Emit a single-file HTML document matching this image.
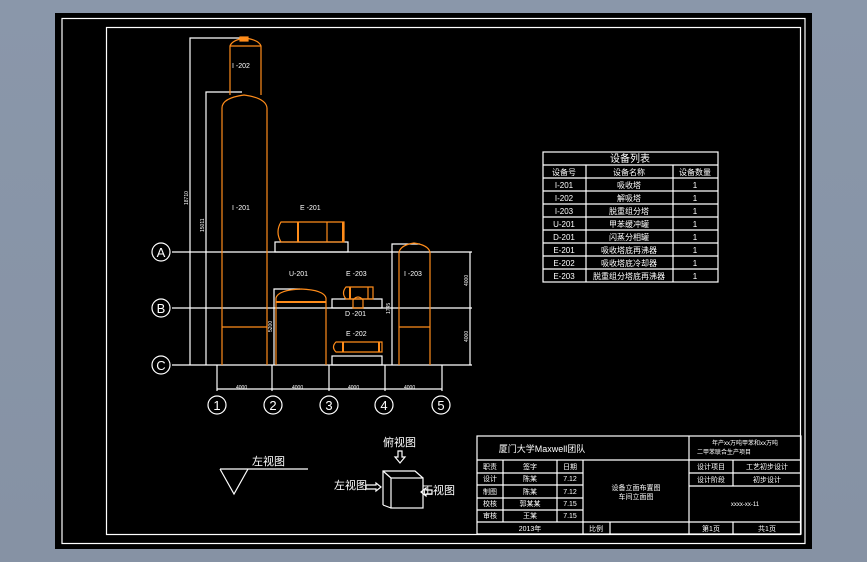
<!DOCTYPE html>
<html><head><meta charset="utf-8"><style>
html,body{margin:0;padding:0;width:867px;height:562px;overflow:hidden;background:linear-gradient(#8a97aa,#8692a4);}
svg{display:block}
text{font-family:"Liberation Sans","Noto Sans CJK SC",sans-serif;fill:#fff}
</style></head><body>
<svg width="867" height="562" viewBox="0 0 867 562">
<rect x="55" y="13" width="757" height="536" fill="#000"/>
<g fill="none" stroke="#fff" stroke-width="1.2">
<rect x="62" y="18.5" width="743" height="525"/>
<rect x="106.5" y="27.5" width="694" height="507"/>
<line x1="172" y1="252" x2="472" y2="252"/>
<line x1="172" y1="308" x2="472" y2="308"/>
<line x1="172" y1="365" x2="472" y2="365"/>
<circle cx="161" cy="252" r="9"/><circle cx="161" cy="308" r="9"/><circle cx="161" cy="365" r="9"/>
<line x1="217" y1="365" x2="217" y2="391"/><line x1="272" y1="365" x2="272" y2="391"/>
<line x1="329" y1="365" x2="329" y2="391"/><line x1="385" y1="365" x2="385" y2="391"/>
<line x1="442" y1="365" x2="442" y2="391"/>
<line x1="217" y1="389" x2="442" y2="389"/>
<circle cx="217" cy="405" r="9"/><circle cx="273" cy="405" r="9"/><circle cx="329" cy="405" r="9"/><circle cx="384" cy="405" r="9"/><circle cx="441" cy="405" r="9"/>
<polyline points="243,38 190,38 190,365"/>
<polyline points="242,92 206,92 206,365"/>
<polyline points="300,289 274,289 274,365"/>
<polyline points="420,244 392,244 392,365"/>
<line x1="470" y1="252" x2="470" y2="365"/>
<rect x="275" y="242" width="73" height="10"/>
<rect x="332" y="299" width="50" height="9"/>
<rect x="332" y="356" width="50" height="9"/>
<rect x="543" y="152" width="175" height="130"/>
<line x1="543" y1="165" x2="718" y2="165"/>
<line x1="543" y1="178" x2="718" y2="178"/><line x1="543" y1="191" x2="718" y2="191"/>
<line x1="543" y1="204" x2="718" y2="204"/><line x1="543" y1="217" x2="718" y2="217"/>
<line x1="543" y1="230" x2="718" y2="230"/><line x1="543" y1="243" x2="718" y2="243"/>
<line x1="543" y1="256" x2="718" y2="256"/><line x1="543" y1="269" x2="718" y2="269"/>
<line x1="586" y1="165" x2="586" y2="282"/><line x1="673" y1="165" x2="673" y2="282"/>
<rect x="477" y="436" width="324" height="98"/>
<line x1="477" y1="460" x2="801" y2="460"/>
<line x1="477" y1="473" x2="583" y2="473"/><line x1="477" y1="485" x2="583" y2="485"/>
<line x1="477" y1="498" x2="583" y2="498"/><line x1="477" y1="510" x2="583" y2="510"/>
<line x1="477" y1="522" x2="801" y2="522"/>
<line x1="689" y1="473" x2="801" y2="473"/><line x1="689" y1="486" x2="801" y2="486"/>
<line x1="503" y1="460" x2="503" y2="522"/><line x1="557" y1="460" x2="557" y2="522"/>
<line x1="583" y1="460" x2="583" y2="534"/><line x1="610" y1="522" x2="610" y2="534"/>
<line x1="689" y1="436" x2="689" y2="534"/><line x1="733" y1="460" x2="733" y2="486"/>
<line x1="733" y1="522" x2="733" y2="534"/>
<line x1="220" y1="469" x2="308" y2="469"/>
<polyline points="220,469 234,494 248,469"/>
<rect x="391" y="478" width="32" height="30"/>
<polyline points="383,505 383,471 415,471 423,478"/><line x1="383" y1="471" x2="391" y2="478"/><line x1="383" y1="505" x2="391" y2="508"/>
<path d="M398,451 h4 v6 h3 l-5,6 l-5,-6 h3z"/>
<path d="M366,485 h10 v-2 l5,4 l-5,4 v-2 h-10z"/>
<path d="M432,490 h-6 v-2 l-5,4 l5,4 v-2 h6z"/>
</g>
<g fill="none" stroke="#ff8c1a" stroke-width="1.2">
<path d="M222,365 V108 Q222,98 244,95 Q266,98 267,108 V365"/>
<line x1="222" y1="327" x2="267" y2="327"/>
<path d="M230,95 V46 Q232,40 245,38 Q259,40 261,46 V95"/><line x1="230" y1="46" x2="261" y2="46"/>
<rect x="240" y="37" width="8" height="4" fill="#ff8c1a"/>
<path d="M276,365 V298 Q278,290 301,289 Q324,290 326,298 V365"/><line x1="276" y1="302" x2="326" y2="302" stroke-width="2"/>
<path d="M281,222 h63 v20 h-63 Q275,232 281,222z"/>
<line x1="298" y1="222" x2="298" y2="242" stroke-width="2"/><line x1="327" y1="222" x2="327" y2="242"/><line x1="343" y1="222" x2="343" y2="242" stroke-width="2"/>
<path d="M346,287 h27 v12 h-27 Q341,293 346,287z"/><line x1="350" y1="287" x2="350" y2="299" stroke-width="2"/><line x1="368" y1="287" x2="368" y2="299"/>
<path d="M353,300 Q358,294 363,300 V308 H353z"/>
<path d="M336,342 h46 v10 h-46 Q331,347 336,342z"/><line x1="343" y1="342" x2="343" y2="352" stroke-width="2"/><line x1="379" y1="342" x2="379" y2="352" stroke-width="2"/>
<path d="M399,365 V252 Q401,245 414,243 Q428,245 430,252 V365"/><line x1="399" y1="327" x2="430" y2="327"/>
</g>
<g font-size="7">
<text x="232" y="68">I -202</text><text x="232" y="210">I -201</text><text x="300" y="210">E -201</text>
<text x="289" y="276">U-201</text><text x="346" y="276">E -203</text><text x="404" y="276">I -203</text>
<text x="345" y="316">D -201</text><text x="346" y="336">E -202</text>
<text x="236" y="389" font-size="5">4000</text><text x="292" y="389" font-size="5">4000</text><text x="348" y="389" font-size="5">4000</text><text x="404" y="389" font-size="5">4000</text>
</g>
<g font-size="5">
<text transform="translate(188,205) rotate(-90)">18710</text>
<text transform="translate(204,232) rotate(-90)">15011</text>
<text transform="translate(272,332) rotate(-90)">5200</text>
<text transform="translate(390,314) rotate(-90)">1745</text>
<text transform="translate(468,286) rotate(-90)">4000</text>
<text transform="translate(468,342) rotate(-90)">4000</text>
</g>
<g font-size="13" text-anchor="middle">
<text x="161" y="257">A</text><text x="161" y="313">B</text><text x="161" y="370">C</text>
<text x="217" y="410">1</text><text x="273" y="410">2</text><text x="329" y="410">3</text><text x="384" y="410">4</text><text x="441" y="410">5</text>
</g>
<g font-size="8" text-anchor="middle">
<text x="630" y="162" font-size="10">设备列表</text>
<text x="564" y="175">设备号</text><text x="629" y="175">设备名称</text><text x="695" y="175">设备数量</text>
<text x="564" y="188">I-201</text><text x="629" y="188">吸收塔</text><text x="695" y="188">1</text>
<text x="564" y="201">I-202</text><text x="629" y="201">解吸塔</text><text x="695" y="201">1</text>
<text x="564" y="214">I-203</text><text x="629" y="214">脱重组分塔</text><text x="695" y="214">1</text>
<text x="564" y="227">U-201</text><text x="629" y="227">甲苯缓冲罐</text><text x="695" y="227">1</text>
<text x="564" y="240">D-201</text><text x="629" y="240">闪蒸分相罐</text><text x="695" y="240">1</text>
<text x="564" y="253">E-201</text><text x="629" y="253">吸收塔底再沸器</text><text x="695" y="253">1</text>
<text x="564" y="266">E-202</text><text x="629" y="266">吸收塔底冷却器</text><text x="695" y="266">1</text>
<text x="564" y="279">E-203</text><text x="629" y="279">脱重组分塔底再沸器</text><text x="695" y="279">1</text>
</g>
<g font-size="7" text-anchor="middle">
<text x="542" y="452" font-size="9">厦门大学Maxwell团队</text>
<text x="745" y="445" font-size="6">年产xx万吨甲苯和xx万吨</text><text x="724" y="454" font-size="6">二甲苯联合生产项目</text>
<text x="490" y="469">职责</text><text x="530" y="469">签字</text><text x="570" y="469">日期</text>
<text x="490" y="481">设计</text><text x="530" y="481">陈某</text><text x="570" y="481">7.12</text>
<text x="490" y="494">制图</text><text x="530" y="494">陈某</text><text x="570" y="494">7.12</text>
<text x="490" y="506">校核</text><text x="530" y="506">郭某某</text><text x="570" y="506">7.15</text>
<text x="490" y="518">审核</text><text x="530" y="518">王某</text><text x="570" y="518">7.15</text>
<text x="636" y="490">设备立面布置图</text><text x="636" y="499">车间立面图</text>
<text x="711" y="469">设计项目</text><text x="767" y="469">工艺初步设计</text>
<text x="711" y="482">设计阶段</text><text x="767" y="482">初步设计</text>
<text x="745" y="506" font-size="6">xxxx-xx-11</text>
<text x="530" y="531">2013年</text><text x="596" y="531">比例</text><text x="711" y="531">第1页</text><text x="767" y="531">共1页</text>
</g>
<g font-size="11">
<text x="252" y="465">左视图</text><text x="383" y="446">俯视图</text>
<text x="334" y="489">左视图</text><text x="422" y="494">正视图</text>
</g>
</svg>
</body></html>
